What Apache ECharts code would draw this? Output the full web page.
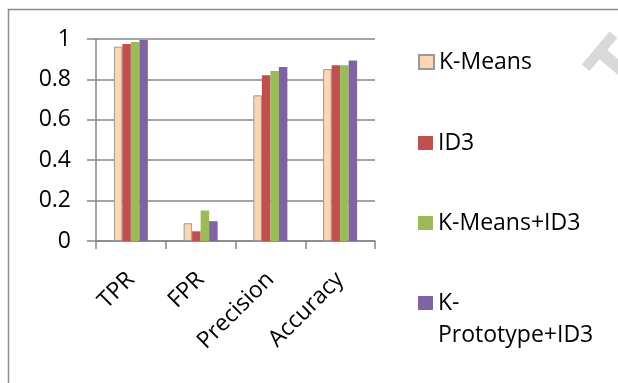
<!DOCTYPE html>
<html><head><meta charset="utf-8">
<script src="https://cdn.jsdelivr.net/npm/echarts@6/dist/echarts.min.js"></script>
<style>html,body{margin:0;padding:0;background:#fff}#c{width:618px;height:383px}</style>
</head><body><div id="c"></div>
<script>
const categories = ['TPR', 'FPR', 'Precision', 'Accuracy'];
const seriesNames = ['K-Means', 'ID3', 'K-Means+ID3', 'K-Prototype+ID3'];
const kMeans = [0.962, 0.088, 0.721, 0.851];
const id3 = [0.975, 0.048, 0.820, 0.870];
const kMeansId3 = [0.985, 0.151, 0.841, 0.870];
const kPrototypeId3 = [0.995, 0.098, 0.861, 0.894];
const yTicks = [0, 0.2, 0.4, 0.6, 0.8, 1];

const colors = ['#FCD5B5', '#C0504D', '#9BBB59', '#8064A2'];
const values = [kMeans, id3, kMeansId3, kPrototypeId3];
const FONT = 'Open Sans';
const FS = 23;

const chart = echarts.init(document.getElementById('c'), null, {renderer: 'canvas'});
const legendTops = [50, 131, 211, 255];
const option = {
  animation: false,
  textStyle: {fontFamily: FONT, color: '#000'},
  grid: {left: 96, right: 243, top: 39, bottom: 142, containLabel: false},
  xAxis: {
    type: 'category', data: categories,
    axisLine: {lineStyle: {color: '#868686', width: 1.5}},
    axisTick: {show: true, length: 8, alignWithLabel: false, lineStyle: {color: '#868686', width: 1.5}},
    axisLabel: {rotate: 45, fontSize: FS, fontFamily: FONT, color: '#000', margin: 35, interval: 0}
  },
  yAxis: {
    type: 'value', min: yTicks[0], max: yTicks[yTicks.length - 1], interval: 0.2,
    axisLine: {show: true, lineStyle: {color: '#868686', width: 1.5}},
    axisTick: {show: true, length: 9, lineStyle: {color: '#868686', width: 1.5}},
    splitLine: {lineStyle: {color: '#868686', width: 1.5}},
    axisLabel: {fontSize: FS, fontFamily: FONT, color: '#000', margin: 25}
  },
  legend: seriesNames.map((n, i) => ({
    data: [n], orient: 'vertical', left: 418, top: legendTops[i], padding: 0,
    itemWidth: 15, itemHeight: 14, icon: 'rect',
    textStyle: {fontSize: FS, fontFamily: FONT, color: '#000', lineHeight: i === 3 ? 32 : 24},
    formatter: i === 3 ? '\nK-\nPrototype+ID3' : '{name}'
  })),
  graphic: [{
    type: 'rect', silent: true, z: -1,
    shape: {x: 8.5, y: 9.5, width: 700, height: 500},
    style: {fill: 'none', stroke: '#8c8c8c', lineWidth: 1.5}
  }, {
    type: 'text', silent: true, z: -2,
    x: 622, y: 70, rotation: 50 * Math.PI / 180,
    style: {text: 'T', fontSize: 80, fontWeight: 'bold', fontFamily: FONT, fill: '#d9d9d9', align: 'center', verticalAlign: 'middle'}
  }],
  series: seriesNames.map((n, i) => ({
    name: n, type: 'bar', data: values[i],
    barWidth: 8.5, barGap: '0%',
    itemStyle: i === 0 ? {color: colors[i], borderColor: '#9a9a9a', borderWidth: 1} : {color: colors[i]}
  }))
};
chart.setOption(option);
</script></body></html>
